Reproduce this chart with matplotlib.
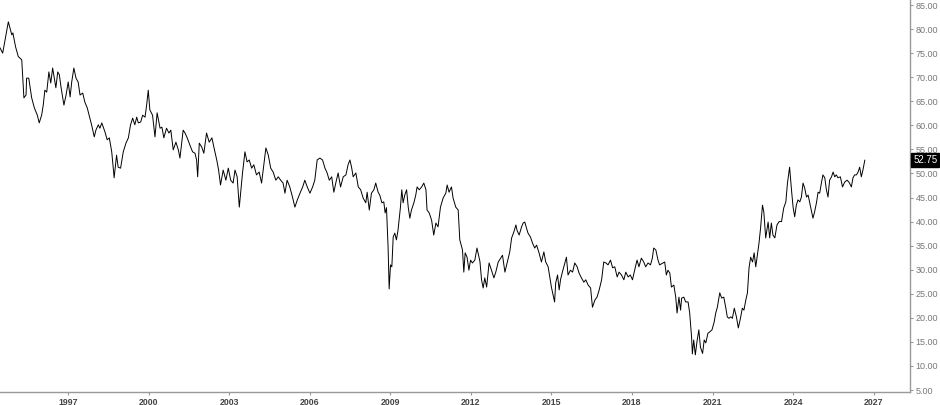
import numpy as np
import matplotlib.pyplot as plt

# decimal years and prices
years = [
    1994.47, 1994.57, 1994.78, 1994.91, 1994.95, 1995.05, 1995.15, 1995.28, 1995.36, 1995.44,
    1995.46, 1995.54, 1995.65, 1995.75, 1995.86, 1995.93, 1996.02, 1996.08, 1996.14, 1996.21,
    1996.29, 1996.36, 1996.43, 1996.49, 1996.55, 1996.62, 1996.68, 1996.74, 1996.85, 1996.93,
    1997.01, 1997.08, 1997.14, 1997.22, 1997.30, 1997.38, 1997.45, 1997.55, 1997.63, 1997.72,
    1997.79, 1997.88, 1997.98, 1998.04, 1998.13, 1998.19, 1998.26, 1998.38, 1998.46, 1998.54,
    1998.63, 1998.72, 1998.81, 1998.87, 1998.96, 1999.06, 1999.16, 1999.25, 1999.33, 1999.41,
    1999.49, 1999.56, 1999.62, 1999.71, 1999.78, 1999.87, 1999.93, 1999.99,
    2000.05, 2000.15, 2000.24, 2000.32, 2000.43, 2000.50, 2000.57, 2000.67, 2000.76, 2000.83,
    2000.92, 2001.02, 2001.11, 2001.17, 2001.29, 2001.36, 2001.44, 2001.54, 2001.64, 2001.73,
    2001.79, 2001.83, 2001.89, 2001.98, 2002.06, 2002.16, 2002.26, 2002.36, 2002.44, 2002.54,
    2002.61, 2002.68, 2002.78, 2002.88, 2002.97, 2003.06, 2003.15, 2003.22, 2003.30, 2003.38,
    2003.43, 2003.50, 2003.59, 2003.67, 2003.75, 2003.84, 2003.92, 2004.02, 2004.12, 2004.21,
    2004.30, 2004.37, 2004.46, 2004.55, 2004.64, 2004.74, 2004.83, 2004.92, 2005.01, 2005.08,
    2005.16, 2005.26, 2005.36, 2005.45, 2005.54, 2005.64, 2005.74, 2005.82, 2005.91, 2006.01,
    2006.11, 2006.19, 2006.28,
    2006.38, 2006.48, 2006.57, 2006.65, 2006.73, 2006.82, 2006.90, 2006.98, 2007.06, 2007.15,
    2007.25, 2007.35, 2007.43, 2007.50, 2007.56, 2007.62, 2007.72, 2007.81, 2007.90, 2007.99,
    2008.09, 2008.14, 2008.22, 2008.30, 2008.39, 2008.46, 2008.55, 2008.61, 2008.69, 2008.76,
    2008.81, 2008.86, 2008.92, 2008.96, 2009.01, 2009.06, 2009.11, 2009.17, 2009.23, 2009.29,
    2009.38, 2009.43, 2009.48, 2009.54, 2009.61, 2009.67, 2009.73, 2009.79, 2009.88, 2009.95,
    2010.00, 2010.08, 2010.17, 2010.25, 2010.33, 2010.37, 2010.45, 2010.54, 2010.62, 2010.70,
    2010.78, 2010.87, 2010.97, 2011.07, 2011.12, 2011.19, 2011.28, 2011.34, 2011.44, 2011.53,
    2011.59, 2011.69, 2011.74, 2011.79, 2011.86, 2011.93, 2011.99, 2012.06, 2012.15, 2012.23,
    2012.34, 2012.40, 2012.46, 2012.52, 2012.59, 2012.68, 2012.77, 2012.86, 2012.93, 2013.02,
    2013.11, 2013.18, 2013.27, 2013.35, 2013.45, 2013.52, 2013.60, 2013.68, 2013.72, 2013.80,
    2013.89, 2013.95, 2014.01, 2014.07, 2014.13, 2014.22, 2014.30, 2014.38, 2014.45, 2014.54,
    2014.63, 2014.72, 2014.79, 2014.88, 2014.94, 2015.00, 2015.06, 2015.12, 2015.16, 2015.23,
    2015.29, 2015.34, 2015.41, 2015.50, 2015.56, 2015.62, 2015.71, 2015.79, 2015.87, 2015.96,
    2016.03, 2016.12, 2016.21, 2016.28, 2016.37, 2016.46, 2016.53, 2016.62, 2016.70, 2016.78,
    2016.87, 2016.95, 2017.03, 2017.11, 2017.20, 2017.28, 2017.36, 2017.45, 2017.52, 2017.61,
    2017.70, 2017.77, 2017.86, 2017.94, 2018.02, 2018.10, 2018.19, 2018.26, 2018.35, 2018.44,
    2018.51, 2018.60, 2018.69, 2018.76, 2018.81, 2018.89, 2018.97,
    2019.03, 2019.16, 2019.22, 2019.28, 2019.34, 2019.41, 2019.47, 2019.56, 2019.63, 2019.68,
    2019.75, 2019.81, 2019.85, 2019.93, 2020.00, 2020.09, 2020.15, 2020.22, 2020.25, 2020.30,
    2020.36, 2020.42, 2020.49, 2020.55, 2020.63, 2020.69, 2020.75, 2020.83, 2020.90, 2020.98,
    2021.06, 2021.12, 2021.18, 2021.27, 2021.34, 2021.42, 2021.49, 2021.55, 2021.61, 2021.68,
    2021.74, 2021.81, 2021.89, 2021.96, 2022.04, 2022.11, 2022.17, 2022.24, 2022.30, 2022.36,
    2022.42, 2022.49, 2022.55, 2022.61, 2022.67, 2022.73, 2022.79, 2022.86, 2022.91, 2022.98,
    2023.07, 2023.13, 2023.19, 2023.25, 2023.32, 2023.40, 2023.48, 2023.57, 2023.65, 2023.73,
    2023.79, 2023.84, 2023.87, 2023.94, 2024.00, 2024.06, 2024.12, 2024.18, 2024.25, 2024.31,
    2024.37, 2024.43, 2024.50, 2024.56, 2024.62, 2024.68, 2024.74, 2024.80, 2024.87, 2024.93,
    2024.99, 2025.06, 2025.11, 2025.18, 2025.24, 2025.30, 2025.36, 2025.43, 2025.49, 2025.55,
    2025.61, 2025.67, 2025.76, 2025.84, 2025.92, 2026.01, 2026.08, 2026.17, 2026.23, 2026.29,
    2026.36, 2026.42, 2026.48, 2026.54, 2026.60, 2026.67,
]
prices = [
    76.1, 75.0, 81.5, 78.8, 79.2, 76.3, 74.3, 73.6, 65.7, 66.3,
    69.8, 69.8, 65.7, 63.6, 62.1, 60.5, 62.1, 64.2, 67.3, 66.9,
    71.1, 68.8, 71.9, 69.8, 67.8, 71.1, 70.5, 68.0, 64.2, 66.3,
    69.0, 65.9, 69.0, 71.9, 69.8, 69.0, 66.3, 66.7, 64.8, 63.6,
    62.1, 60.1, 57.6, 59.0, 60.1, 59.4, 60.5, 58.6, 57.0, 57.4,
    54.5, 49.1, 53.8, 51.3, 51.1, 54.5, 56.3, 57.4, 60.1, 61.5,
    60.1, 61.7, 60.5, 60.7, 62.1, 61.7, 64.2, 67.3,
    63.2, 62.1, 57.6, 62.6, 59.4, 59.6, 57.4, 59.4, 58.4, 59.0,
    54.9, 56.5, 54.9, 53.2, 59.0, 58.4, 57.4, 55.9, 54.5, 54.2,
    52.8, 49.3, 56.3, 55.5, 54.2, 58.4, 56.5, 57.4, 55.3, 52.8,
    50.7, 47.6, 50.7, 48.6, 51.1, 48.6, 48.0, 50.7, 49.3, 43.0,
    45.9, 50.1, 54.5, 52.4, 52.8, 51.1, 51.8, 49.7, 50.3, 48.0,
    52.2, 55.3, 53.8, 51.1, 50.3, 48.6, 49.3, 48.6, 48.0, 45.9,
    48.6, 47.2, 45.1, 43.0, 44.5, 45.9, 47.2, 48.6, 47.2, 45.9,
    47.2, 48.6, 52.8,
    53.2, 52.8, 51.1, 50.1, 48.6, 49.3, 46.1, 48.2, 50.1, 47.2,
    49.3, 49.7, 51.8, 52.8, 51.3, 49.3, 50.1, 47.2, 46.6, 44.9,
    43.9, 46.1, 42.4, 45.9, 46.6, 48.0, 46.1, 45.5, 43.9, 44.1,
    41.8, 42.9, 34.7, 26.0, 31.0, 30.6, 36.8, 37.6, 36.2, 38.2,
    43.0, 46.6, 43.9, 45.5, 46.6, 43.0, 40.7, 42.4, 43.9, 45.5,
    47.2, 46.6, 47.2, 48.0, 46.6, 42.4, 41.8, 40.3, 37.2, 39.7,
    38.9, 43.0, 44.9, 45.9, 47.6, 46.1, 47.2, 44.9, 43.0, 42.4,
    36.2, 34.1, 29.5, 33.5, 32.6, 29.9, 32.0, 31.4, 32.0, 34.5,
    31.7, 27.9, 26.2, 28.3, 26.4, 31.4, 29.9, 28.3, 29.5, 31.6,
    32.4, 33.0, 29.5, 31.4, 33.7, 36.6, 37.8, 39.3, 38.2, 37.2,
    38.9, 39.7, 39.9, 38.7, 37.6, 36.8, 35.5, 34.5, 35.1, 33.5,
    31.6, 33.7, 31.6, 30.6, 28.5, 26.4, 24.8, 23.3, 27.2, 28.9,
    25.8, 27.9, 29.5, 31.4, 32.6, 28.9, 29.9, 29.5, 31.4, 30.6,
    29.3, 28.3, 27.4, 27.9, 26.8, 26.2, 22.2, 23.7, 24.3, 25.8,
    27.9, 31.6, 31.4, 31.0, 32.0, 30.4, 30.6, 28.5, 29.5, 28.9,
    27.9, 29.5, 28.5, 28.9, 27.9, 29.9, 32.0, 30.6, 32.4, 31.6,
    30.6, 31.4, 31.0, 32.4, 34.5, 34.1, 32.0,
    31.0, 31.4, 31.6, 28.9, 29.9, 29.3, 26.4, 26.8, 24.3, 21.0,
    24.3, 21.6, 24.1, 24.3, 23.3, 23.3, 21.0, 16.0, 12.5, 15.4,
    12.3, 15.0, 17.5, 13.9, 12.6, 15.4, 14.8, 16.8, 17.1, 17.5,
    19.1, 21.0, 22.2, 25.2, 24.1, 24.3, 22.2, 20.2, 19.9, 20.2,
    19.9, 22.0, 20.2, 17.9, 19.9, 22.0, 21.6, 23.7, 25.2, 30.4,
    32.6, 31.6, 33.5, 30.6, 33.0, 35.5, 38.7, 43.4, 42.0, 36.6,
    39.9, 36.6, 39.7, 37.2, 36.6, 39.3, 40.0, 40.0, 42.8, 44.1,
    48.0, 50.1, 51.3, 46.6, 43.0, 41.0, 43.4, 44.5, 44.1, 45.1,
    48.0, 47.0, 45.1, 45.5, 43.9, 42.4, 40.7, 42.0, 43.9, 46.1,
    45.9, 48.2, 49.7, 49.1, 46.6, 45.1, 48.6, 49.3, 50.3, 49.3,
    49.7, 49.1, 49.3, 47.2, 48.2, 48.6, 48.2, 47.2, 49.1, 49.7,
    49.7, 50.3, 51.3, 49.3, 50.7, 52.75,
]
year_ticks = [1997, 2000, 2003, 2006, 2009, 2012, 2015, 2018, 2021, 2024, 2027]
price_ticks = [5, 10, 15, 20, 25, 30, 35, 40, 45, 50, 55, 60, 65, 70, 75, 80, 85]
last_price = prices[-1]

plt.rcParams['font.family'] = ['Liberation Sans', 'DejaVu Sans']

fig = plt.figure(figsize=(9.4, 4.05), dpi=100)
ax = fig.add_axes([0.0, 0.032, 0.968, 0.968])
ax.plot(years, prices, color='black', lw=0.7)

ax.set_xlim(1994.47, 2028.35)
ax.set_ylim(4.58, 86.04)
for s in ['top', 'left']:
    ax.spines[s].set_visible(False)
for s in ['right', 'bottom']:
    ax.spines[s].set_color('#999999')
    ax.spines[s].set_linewidth(1.0)

ax.yaxis.tick_right()
ax.set_yticks(price_ticks)
ax.set_yticklabels(['%.2f' % p for p in price_ticks])
ax.tick_params(axis='y', direction='out', length=2.5, width=0.8, color='#999999',
               labelsize=6.5, labelcolor='#777777', pad=1.5)
ax.set_xticks(year_ticks)
ax.set_xticklabels([str(y) for y in year_ticks], fontweight='bold')
ax.tick_params(axis='x', direction='out', length=2, width=0.8, color='#999999',
               labelsize=6.3, labelcolor='#444444', pad=2)

ax.annotate('%.2f' % last_price, xy=(1.0, last_price), xycoords=('axes fraction', 'data'),
            xytext=(2.5, 0), textcoords='offset points', va='center', ha='left',
            fontsize=7, color='white',
            bbox=dict(boxstyle='square,pad=0.2', fc='black', ec='black'))

fig.savefig('out.png', dpi=100)
